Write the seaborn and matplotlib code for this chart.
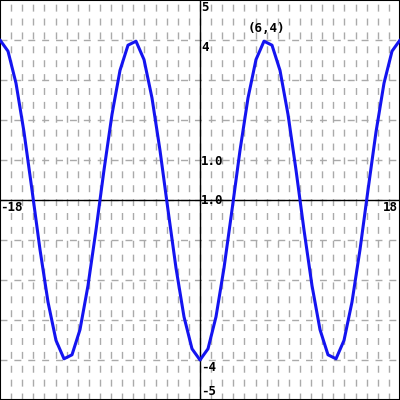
import numpy as np
import pandas as pd
import seaborn as sns
import matplotlib.pyplot as plt

# Curve samples
x_vals = [-18.0, -17.28, -16.56, -15.84, -15.12, -14.4, -13.68, -12.96, -12.24, -11.52,
          -10.8, -10.08, -9.36, -8.64, -7.92, -7.2, -6.48, -5.76, -5.04, -4.32,
          -3.6, -2.88, -2.16, -1.44, -0.72, 0.0, 0.72, 1.44, 2.16, 2.88,
          3.6, 4.32, 5.04, 5.76, 6.48, 7.2, 7.92, 8.64, 9.36, 10.08,
          10.8, 11.52, 12.24, 12.96, 13.68, 14.4, 15.12, 15.84, 16.56, 17.28, 18.0]
y_vals = [4.0, 3.72, 2.92, 1.70, 0.25, -1.24, -2.55, -3.51, -3.97, -3.87,
          -3.24, -2.14, -0.75, 0.75, 2.14, 3.24, 3.87, 3.97, 3.51, 2.55,
          1.24, -0.25, -1.70, -2.92, -3.72, -4.0, -3.72, -2.92, -1.70, -0.25,
          1.24, 2.55, 3.51, 3.97, 3.87, 3.24, 2.14, 0.75, -0.75, -2.14,
          -3.24, -3.87, -3.97, -3.51, -2.55, -1.24, 0.25, 1.70, 2.92, 3.72, 4.0]

x_range = (-18, 18)
y_range = (-5, 5)

df = pd.DataFrame({"x": x_vals, "y": y_vals})

sns.set_style("white")
plt.rcParams["font.family"] = ["DejaVu Sans Mono"]

fig = plt.figure(figsize=(4, 4), dpi=100)
ax = fig.add_axes([0, 0, 1, 1])

# grid every unit
for gx in range(x_range[0] + 1, x_range[1]):
    ax.axvline(gx, color="#aaaaaa", lw=1, ls=(0, (5, 5)), zorder=0)
for gy in range(y_range[0] + 1, y_range[1]):
    ax.axhline(gy, color="#aaaaaa", lw=1, ls=(0, (5, 5)), zorder=0)

ax.axhline(0, color="black", lw=1, zorder=1)
ax.axvline(0, color="black", lw=1, zorder=1)

sns.lineplot(data=df, x="x", y="y", ax=ax, color="#1414f0", lw=2.2, sort=False, zorder=3)

ax.set_xlim(*x_range)
ax.set_ylim(*y_range)
ax.set_xticks([])
ax.set_yticks([])
ax.set_xlabel("")
ax.set_ylabel("")
for s in ax.spines.values():
    s.set_color("black")
    s.set_linewidth(1.5)

lab = dict(fontsize=9, fontweight="bold", color="black")
ax.text(-17.95, -0.02, "-18", ha="left", va="top", **lab)
ax.text(17.8, -0.02, "18", ha="right", va="top", **lab)
ax.text(0.1, 4.97, "5", ha="left", va="top", **lab)
ax.text(0.1, 3.97, "4", ha="left", va="top", **lab)
ax.text(0.1, 0.97, "1.0", ha="left", va="center", **lab)
ax.text(0.1, -0.02, "1.0", ha="left", va="center", **lab)
ax.text(0.1, -4.03, "-4", ha="left", va="top", **lab)
ax.text(0.1, -4.95, "-5", ha="left", va="bottom", **lab)
ax.text(6.0, 4.12, "(6,4)", ha="center", va="bottom", **lab)

fig.savefig("out.png", dpi=100)
